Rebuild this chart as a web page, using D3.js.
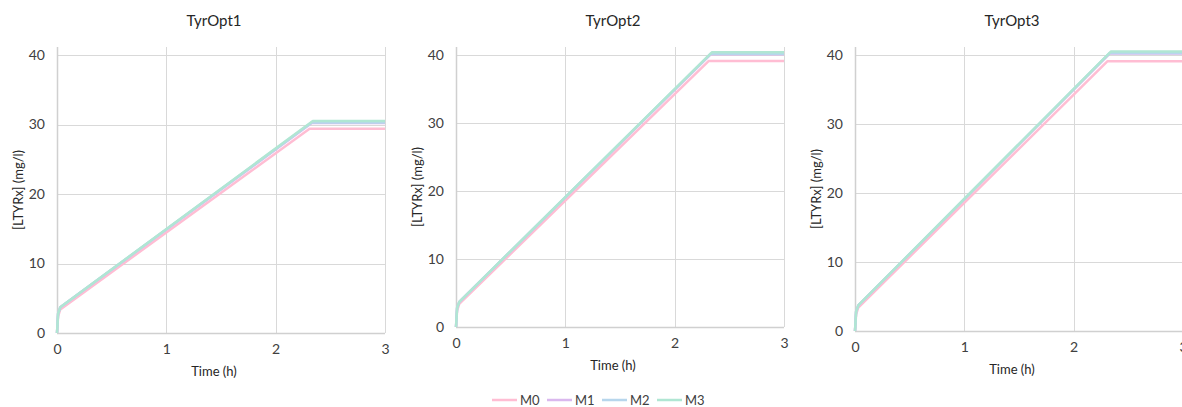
<!DOCTYPE html>
<html>
<head>
<meta charset="utf-8">
<style>
  body { margin: 0; background: #fff; font-family: Lato, "Open Sans", sans-serif; }
  .grid line { stroke: #d9d9d9; stroke-width: 1; }
</style>
</head>
<body>
<svg id="chart" width="1182" height="407"></svg>
<script src="https://cdn.jsdelivr.net/npm/d3@7/dist/d3.min.js"></script>
<script>
// data
var panels = ["TyrOpt1", "TyrOpt2", "TyrOpt3"];
var series = ["M0", "M1", "M2", "M3"];
var colors = ["#ffbdd3", "#dab8ee", "#b7d6ec", "#b0e6d3"];
var xTicks = [0, 1, 2, 3];
var yTicks = [0, 10, 20, 30, 40];
// early time points (h) and values, same for all panels
var startTimes = [0, 0.01, 0.03];
var startM0 = [0, 2.4, 3.4];
var startM = [0, 2.8, 3.7];
// time when plateau starts, per series
var plateauTime = [2.31, 2.33, 2.33, 2.34];
// plateau values per panel and series
var plateau1 = [29.4, 30.2, 30.3, 30.5];
var plateau2 = [39.1, 40.1, 40.2, 40.4];
var plateau3 = [39.1, 40.2, 40.3, 40.5];
var plateaus = [plateau1, plateau2, plateau3];
var endTime = 3;

var svg = d3.select("#chart");

var lefts = [57, 456, 855];
var bottoms = [333, 327, 331];
var plotTop = 47, w = 328;

function seriesPoints(p, s) {
  var st = s === 0 ? startM0 : startM;
  var pts = startTimes.map(function (t, i) { return [t, st[i]]; });
  pts.push([plateauTime[s], plateaus[p][s]]);
  pts.push([endTime, plateaus[p][s]]);
  return pts;
}

panels.forEach(function (name, p) {
  var x = d3.scaleLinear().domain([0, 3]).range([lefts[p], lefts[p] + w]);
  var y = d3.scaleLinear().domain([0, 40]).range([bottoms[p], 55]);
  var g = svg.append("g");

  // grid
  var grid = g.append("g").attr("class", "grid");
  grid.selectAll(".h").data(yTicks.slice(1)).enter().append("line")
    .attr("x1", x(0)).attr("x2", x(3))
    .attr("y1", function (d) { return Math.round(y(d)) + 0.5; })
    .attr("y2", function (d) { return Math.round(y(d)) + 0.5; });
  grid.selectAll(".v").data(xTicks.slice(1)).enter().append("line")
    .attr("y1", plotTop).attr("y2", y(0))
    .attr("x1", function (d) { return Math.round(x(d)) + 0.5; })
    .attr("x2", function (d) { return Math.round(x(d)) + 0.5; });

  // axes
  g.append("line").attr("x1", x(0) + 0.5).attr("x2", x(0) + 0.5)
    .attr("y1", plotTop).attr("y2", y(0)).attr("stroke", "#d0d0d0").attr("stroke-width", 1.5);
  g.append("line").attr("x1", x(0)).attr("x2", x(3))
    .attr("y1", y(0) + 0.5).attr("y2", y(0) + 0.5).attr("stroke", "#d0d0d0").attr("stroke-width", 1.5);

  var xa = g.append("g").attr("transform", "translate(0," + (y(0) + 4) + ")")
    .call(d3.axisBottom(x).tickValues(xTicks).tickFormat(d3.format("d")).tickSize(0).tickPadding(7));
  var ya = g.append("g").attr("transform", "translate(" + (x(0) - 12) + ",0)")
    .call(d3.axisLeft(y).tickValues(yTicks).tickSize(0).tickPadding(0));
  xa.select(".domain").remove();
  ya.select(".domain").remove();
  g.selectAll(".tick text").attr("font-family", "Lato, sans-serif").attr("fill", "#404040").attr("font-size", 14);

  // lines
  var line = d3.line().x(function (d) { return x(d[0]); }).y(function (d) { return y(d[1]); });
  series.forEach(function (s, i) {
    g.append("path").datum(seriesPoints(p, i))
      .attr("fill", "none").attr("stroke", colors[i]).attr("stroke-width", 2.5)
      .attr("stroke-linejoin", "round").attr("d", line);
  });

  // titles
  g.append("text").attr("x", x(1.5) - 7).attr("y", 26).attr("text-anchor", "middle")
    .attr("font-size", 15).attr("fill", "#262626").text(name);
  g.append("text").attr("x", x(1.5) - 7).attr("y", y(0) + 43).attr("text-anchor", "middle")
    .attr("font-size", 13).attr("fill", "#262626").text("Time (h)");
  g.append("text").attr("transform", "translate(" + (x(0) - 34) + "," + ((plotTop + y(0)) / 2) + ") rotate(-90)")
    .attr("text-anchor", "middle").attr("font-size", 13).attr("fill", "#262626").text("[LTYRx] (mg/l)");
});

// legend
var leg = svg.append("g").attr("transform", "translate(492,400)");
series.forEach(function (s, i) {
  var lg = leg.append("g").attr("transform", "translate(" + (i * 55) + ",0)");
  lg.append("line").attr("x1", 0).attr("x2", 25).attr("y1", 0).attr("y2", 0)
    .attr("stroke", colors[i]).attr("stroke-width", 2.5);
  lg.append("text").attr("x", 28).attr("y", 5).attr("font-size", 13).attr("fill", "#404040").text(s);
});
</script>
</body>
</html>
